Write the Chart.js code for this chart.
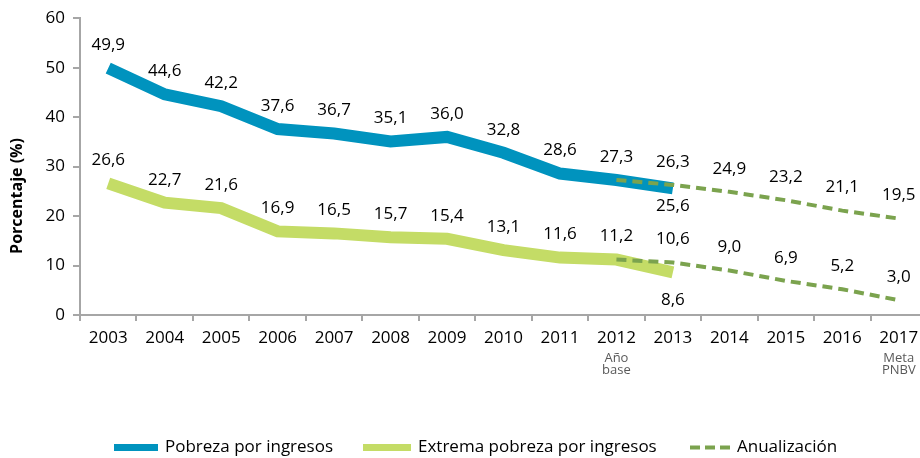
<!DOCTYPE html>
<html><head><meta charset="utf-8">
<script src="https://cdn.jsdelivr.net/npm/chart.js@4/dist/chart.umd.min.js"></script>
<style>html,body{margin:0;padding:0;overflow:hidden;background:#fff}#wrap{width:927px;height:458px;position:relative}</style>
</head><body><div id="wrap"><canvas id="c"></canvas></div>
<script>
const years = ['2003','2004','2005','2006','2007','2008','2009','2010','2011','2012','2013','2014','2015','2016','2017'];
const subLabels = {'2012':['Año','base'],'2017':['Meta','PNBV']};
const pobreza = [49.9,44.6,42.2,37.6,36.7,35.1,36.0,32.8,28.6,27.3,25.6,null,null,null,null];
const extrema = [26.6,22.7,21.6,16.9,16.5,15.7,15.4,13.1,11.6,11.2,8.6,null,null,null,null];
const anualPobreza = [null,null,null,null,null,null,null,null,null,27.3,26.3,24.9,23.2,21.1,19.5];
const anualExtrema = [null,null,null,null,null,null,null,null,null,11.2,10.6,9.0,6.9,5.2,3.0];
const legendNames = ['Pobreza por ingresos','Extrema pobreza por ingresos','Anualización'];
const yTitle = 'Porcentaje (%)';

const BLUE='#0093BE', LGREEN='#C4DC66', DGREEN='#7BA34E', AXIS='#a6a6a6';
const FONT='"Open Sans", sans-serif';
const fmt = v => v.toFixed(1).replace('.', ',');

const labelPlugin = {
  id:'valueLabels',
  afterDatasetsDraw(chart){
    const ctx = chart.ctx;
    ctx.save();
    ctx.font = '17px '+FONT;
    ctx.fillStyle = '#000';
    ctx.textAlign='center'; ctx.textBaseline='middle';
    chart.data.datasets.forEach((ds, di) => {
      const meta = chart.getDatasetMeta(di);
      ds.data.forEach((v,i)=>{
        if (v==null) return;
        if (ds.labelSkip && ds.labelSkip.includes(i)) return;
        const p = meta.data[i];
        let dy = -23;
        if (ds.labelBelow && ds.labelBelow[i] !== undefined) dy = ds.labelBelow[i];
        ctx.fillText(fmt(v), p.x, p.y + dy);
      });
    });
    ctx.restore();
  },
  afterDraw(chart){
    const ctx = chart.ctx;
    const xs = chart.scales.x;
    ctx.save();
    ctx.font = '13px '+FONT;
    ctx.fillStyle = '#595959';
    ctx.textAlign='center'; ctx.textBaseline='middle';
    Object.keys(subLabels).forEach(k=>{
      const i = years.indexOf(k);
      const x = xs.getPixelForValue(i);
      subLabels[k].forEach((t,j)=>ctx.fillText(t, x, xs.top + 43 + j*12.5));
    });
    ctx.save();
    ctx.translate(17, 196);
    ctx.rotate(-Math.PI/2);
    ctx.font = 'bold 16px '+FONT;
    ctx.fillStyle='#000';
    ctx.fillText(yTitle, 0, 0);
    ctx.restore();
    const ly = 447.5;
    ctx.font = '17px '+FONT;
    ctx.textAlign='left';
    const items = [
      {x:114, w:44, color:BLUE, dash:false},
      {x:363, w:48, color:LGREEN, dash:false},
      {x:690, w:40, color:DGREEN, dash:true}
    ];
    items.forEach((it,k)=>{
      if (!it.dash) {
        ctx.fillStyle = it.color;
        ctx.fillRect(it.x, ly-3.5, it.w, 7);
      } else {
        ctx.strokeStyle = it.color; ctx.lineWidth = 4;
        ctx.setLineDash([10,5]);
        ctx.beginPath(); ctx.moveTo(it.x, ly); ctx.lineTo(it.x+it.w, ly); ctx.stroke();
        ctx.setLineDash([]);
      }
      ctx.fillStyle='#000';
      ctx.fillText(legendNames[k], it.x + it.w + 7, ly);
    });
    ctx.restore();
  }
};

new Chart(document.getElementById('c'), {
  type:'line',
  data:{
    labels: years,
    datasets:[
      {data:pobreza, borderColor:BLUE, borderWidth:12, pointRadius:0, borderCapStyle:'butt', borderJoinStyle:'miter', tension:0, labelBelow:{10:18}, order:2},
      {data:extrema, borderColor:LGREEN, borderWidth:12, pointRadius:0, borderCapStyle:'butt', borderJoinStyle:'miter', tension:0, labelBelow:{10:28}, order:2},
      {data:anualPobreza, borderColor:DGREEN, borderWidth:4, borderDash:[10,6], pointRadius:0, tension:0, labelSkip:[9], order:1},
      {data:anualExtrema, borderColor:DGREEN, borderWidth:4, borderDash:[10,6], pointRadius:0, tension:0, labelSkip:[9], order:1}
    ]
  },
  options:{
    responsive:true, maintainAspectRatio:false, animation:false,
    layout:{padding:{top:16,left:0,right:0,bottom:0}},
    plugins:{legend:{display:false}, tooltip:{enabled:false}},
    scales:{
      x:{
        offset:true,
        grid:{display:true, drawOnChartArea:false, offset:true, color:AXIS, lineWidth:2, tickLength:6},
        border:{color:AXIS, width:2},
        ticks:{font:{family:FONT, size:17}, color:'#000', padding:7, maxRotation:0, autoSkip:false},
        afterFit(s){ s.height = 143; }
      },
      y:{
        min:0, max:60,
        grid:{display:true, drawOnChartArea:false, color:AXIS, lineWidth:2, tickLength:7},
        border:{color:AXIS, width:2},
        ticks:{stepSize:10, font:{family:FONT, size:17}, color:'#000', padding:8},
        afterFit(s){ s.width = 80; }
      }
    }
  },
  plugins:[labelPlugin]
});
</script>
</body></html>
